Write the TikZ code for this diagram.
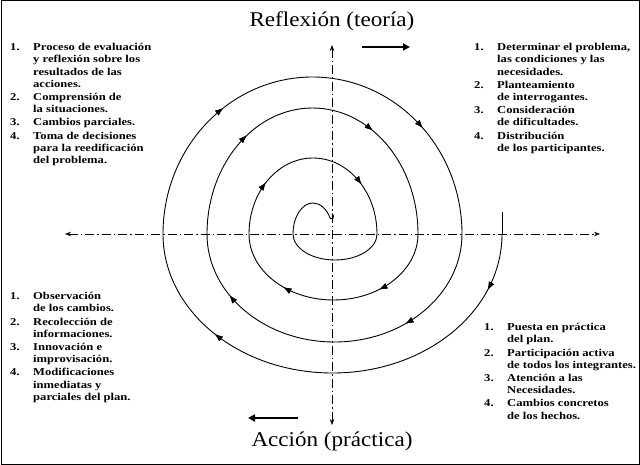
\documentclass[tikz,border=0pt]{standalone}
\usepackage{fontspec}
\setmainfont{Liberation Serif}
\newfontfamily\lstfont[FakeStretch=1.2]{Liberation Serif}
\newfontfamily\ttlfont[FakeStretch=1.1]{Liberation Serif}
\usetikzlibrary{arrows.meta,decorations.markings}
\tikzset{
  axis/.style={line width=0.8pt,dash pattern=on 9pt off 3pt on 1.5pt off 3pt,{Stealth[length=6pt]}-{Stealth[length=6pt]}},
  dirarrow/.style={line width=2.2pt,-{Triangle[length=7pt,width=7pt]}},
  lst/.style={anchor=north west,inner sep=0pt,font=\lstfont\fontsize{10.5}{12.2}\selectfont\bfseries},
  ttl/.style={font=\ttlfont\fontsize{21}{23}\selectfont},
  sp/.style={line width=0.9pt},
  ar/.style={postaction={decorate},decoration={markings,mark=at position #1 with {\arrow{Latex[length=8pt,width=6pt]}}}}
}
\begin{document}
\begin{tikzpicture}[x=1pt,y=-1pt]
\path[use as bounding box] (0,0) rectangle (640,465);
\draw[line width=1pt] (1,1) rectangle (639,464);
\coordinate (L) at (65,234); \coordinate (R) at (600,234);
\coordinate (T) at (332,45); \coordinate (B) at (332,425);
\draw[axis] (L) -- (R);
\draw[axis] (T) -- (B);
\coordinate (a1) at (362,47); \coordinate (a2) at (410,47);
\coordinate (b1) at (298,418); \coordinate (b2) at (248,418);
\draw[dirarrow] (a1) -- (a2);
\draw[dirarrow] (b1) -- (b2);
\node[ttl] (t1) at (332,21) {Reflexión (teoría)};
\node[ttl] (t2) at (332,441) {Acción (práctica)};
% spiral
\coordinate (s0) at (502,212);
\coordinate (s1) at (502,234);
\coordinate (s2) at (163,234);
\coordinate (s3) at (462,234);
\coordinate (s4) at (207,234);
\coordinate (s5) at (418,234);
\coordinate (s6) at (249,234);
\coordinate (s7) at (377,234);
\coordinate (s8) at (293,234);
\coordinate (s9) at (332,215);
\draw[sp] (s0) -- (s1);
\draw[sp,ar=0.12,ar=0.76] (s1) arc[start angle=0,end angle=180,x radius=169.5,y radius=139];
\draw[sp,ar=0.3,ar=0.76] (s2) arc[start angle=180,end angle=360,x radius=149.5,y radius=157];
\draw[sp,ar=0.3,ar=0.82] (s3) arc[start angle=0,end angle=180,x radius=127.5,y radius=108];
\draw[sp,ar=0.3,ar=0.68] (s4) arc[start angle=180,end angle=360,x radius=105.5,y radius=126];
\draw[sp,ar=0.3,ar=0.72] (s5) arc[start angle=0,end angle=180,x radius=84.5,y radius=66];
\draw[sp,ar=0.25,ar=0.76] (s6) arc[start angle=180,end angle=360,x radius=64,y radius=76];
\draw[sp] (s7) arc[start angle=0,end angle=180,x radius=42,y radius=26];
\draw[sp] (s8) arc[start angle=180,end angle=330,x radius=20,y radius=31] .. controls +(6,2) and +(0,-4) .. (s9);
\node[lst] (tl) at (10,42) {\begin{tabular}{@{}p{23pt}@{}l@{}}
1. & Proceso de evaluación\\ & y reflexión sobre los\\ & resultados de las\\ & acciones.\\[1pt]
2. & Comprensión de\\ & la situaciones.\\[1pt]
3. & Cambios parciales.\\[1pt]
4. & Toma de decisiones\\ & para la reedificación\\ & del problema.
\end{tabular}};
\node[lst] (tr) at (474,42) {\begin{tabular}{@{}p{23pt}@{}l@{}}
1. & Determinar el problema,\\ & las condiciones y las\\ & necesidades.\\[1pt]
2. & Planteamiento\\ & de interrogantes.\\[1pt]
3. & Consideración\\ & de dificultades.\\[1pt]
4. & Distribución\\ & de los participantes.
\end{tabular}};
\node[lst] (bl) at (10,291) {\begin{tabular}{@{}p{23pt}@{}l@{}}
1. & Observación\\ & de los cambios.\\[1pt]
2. & Recolección de\\ & informaciones.\\[1pt]
3. & Innovación e\\ & improvisación.\\[1pt]
4. & Modificaciones\\ & inmediatas y\\ & parciales del plan.
\end{tabular}};
\node[lst] (br) at (484,322) {\begin{tabular}{@{}p{23pt}@{}l@{}}
1. & Puesta en práctica\\ & del plan.\\[1pt]
2. & Participación activa\\ & de todos los integrantes.\\[1pt]
3. & Atención a las\\ & Necesidades.\\[1pt]
4. & Cambios concretos\\ & de los hechos.
\end{tabular}};
\end{tikzpicture}
\end{document}
